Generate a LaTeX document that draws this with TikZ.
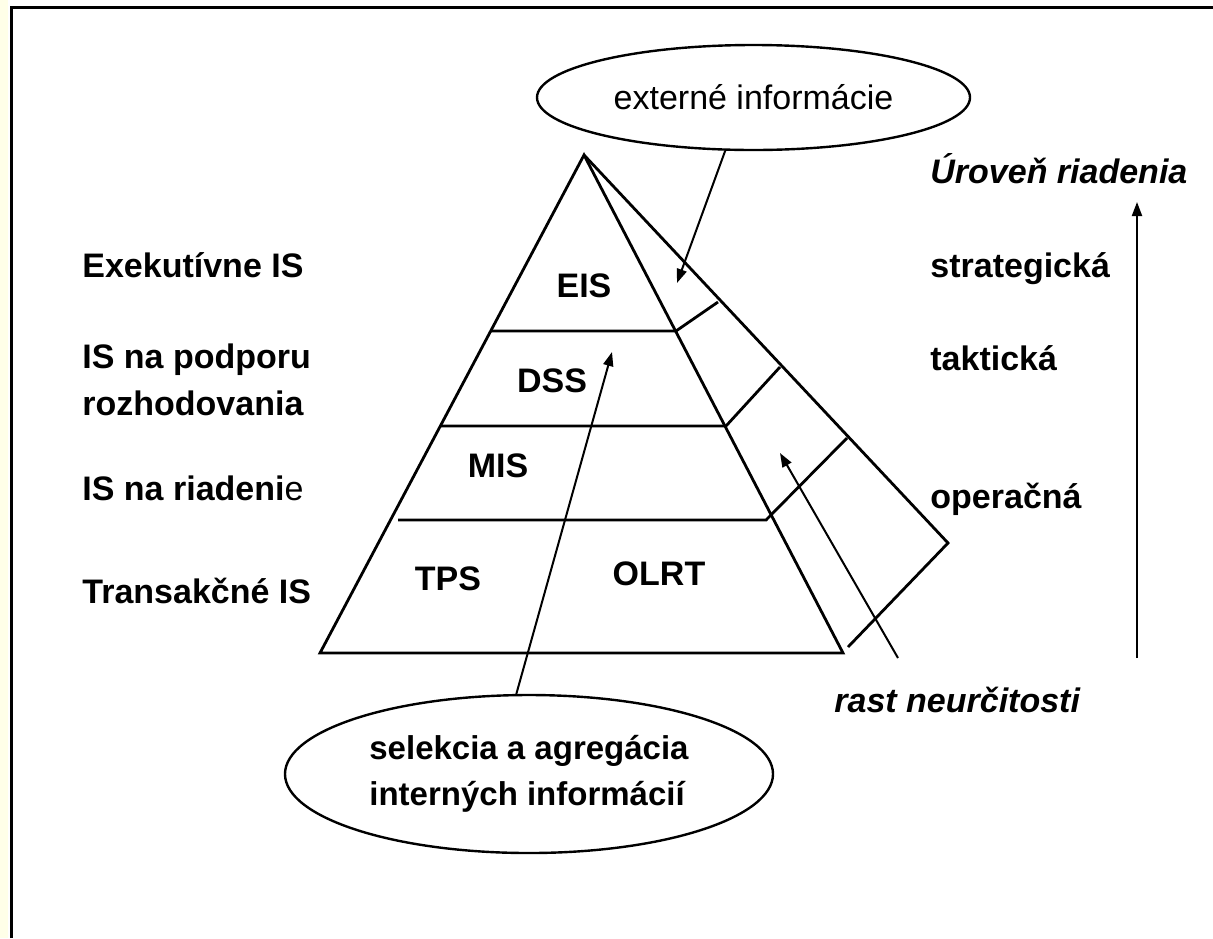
\documentclass[tikz,border=0pt]{standalone}
\usepackage{fontspec}
\setmainfont{Liberation Sans}
\usetikzlibrary{arrows.meta,shapes.geometric}
\definecolor{margin}{HTML}{FFFFE8}
\tikzset{
  >={Triangle[length=7pt,width=5pt]},
  lbl/.style={font=\fontsize{17}{20}\selectfont\bfseries,inner sep=0pt},
  ilbl/.style={lbl,font=\fontsize{17}{20}\selectfont\bfseries\itshape},
  ell/.style={draw,ellipse,line width=1.2pt,inner sep=0pt},
  pyr/.style={line width=1.4pt},
  arr/.style={->,line width=1pt},
}

\begin{document}
\begin{tikzpicture}[x=0.5pt,y=-0.5pt]
\useasboundingbox (0,0) rectangle (1213,938);
\fill[margin] (0,0) rectangle (8,938);
\draw[line width=1.5pt] (11,938) -- (11,7) -- (1213,7);
% pyramid and wedge
\coordinate (apex) at (584,155);
\coordinate (bl) at (320,653);
\coordinate (br) at (843,653);
\coordinate (wtip) at (948,543);
\coordinate (wend) at (848,647);
\draw[pyr] (bl) -- (apex) -- (br) -- cycle;
\draw[pyr] (apex) -- (wtip) -- (wend);
\draw[pyr] (491,331) -- (676,331) -- (718,302);
\draw[pyr] (440,426) -- (726,426) -- (780,367);
\draw[pyr] (398,520) -- (766,520) -- (847,438);
% levels inside
\node[lbl,anchor=base] (eis) at (584,297) {EIS};
\node[lbl,anchor=base] (dss) at (552,392) {DSS};
\node[lbl,anchor=base] (mis) at (498,477) {MIS};
\node[lbl,anchor=base] (tps) at (448,590) {TPS};
\node[lbl,anchor=base] (olrt) at (659,585) {OLRT};
% left column
\node[lbl,anchor=base west] (exe) at (82,277) {Exekutívne IS};
\node[lbl,anchor=base west] (dsl1) at (82,368) {IS na podporu};
\node[lbl,anchor=base west] (dsl2) at (82,415) {rozhodovania};
\node[lbl,anchor=base west] (misl) at (82,500) {IS na riadeni{\mdseries e}};
\node[lbl,anchor=base west] (tpsl) at (82,603) {Transakčné IS};
% right column
\node[ilbl,anchor=base west] (lvl) at (930,183) {Úroveň riadenia};
\node[lbl,anchor=base west] (str) at (930,277) {strategická};
\node[lbl,anchor=base west] (tak) at (930,370) {taktická};
\node[lbl,anchor=base west] (ope) at (930,508) {operačná};
\node[ilbl,anchor=base west] (rast) at (834,712) {rast neurčitosti};
% ellipses
\node[ell,minimum width=216.5pt,minimum height=52.5pt,font=\fontsize{17}{20}\selectfont] (ext) at (753.5,97.5) {externé informácie};
\node[ell,minimum width=244pt,minimum height=79pt,lbl,font=\fontsize{16.5}{23}\selectfont\bfseries,align=left] (sel) at (529,774) {selekcia a agregácia\\interných informácií};
% arrows
\coordinate (exttip) at (677,283);
\coordinate (seltip) at (612,352);
\coordinate (rasttip) at (780,453);
\coordinate (rastsrc) at (898,658);
\coordinate (lvlsrc) at (1137,658);
\coordinate (lvltip) at (1137,202);
\draw[arr] (ext.-118) -- (exttip);
\draw[arr] (sel.99) -- (seltip);
\draw[arr] (rastsrc) -- (rasttip);
\draw[arr] (lvlsrc) -- (lvltip);
\end{tikzpicture}
\end{document}
